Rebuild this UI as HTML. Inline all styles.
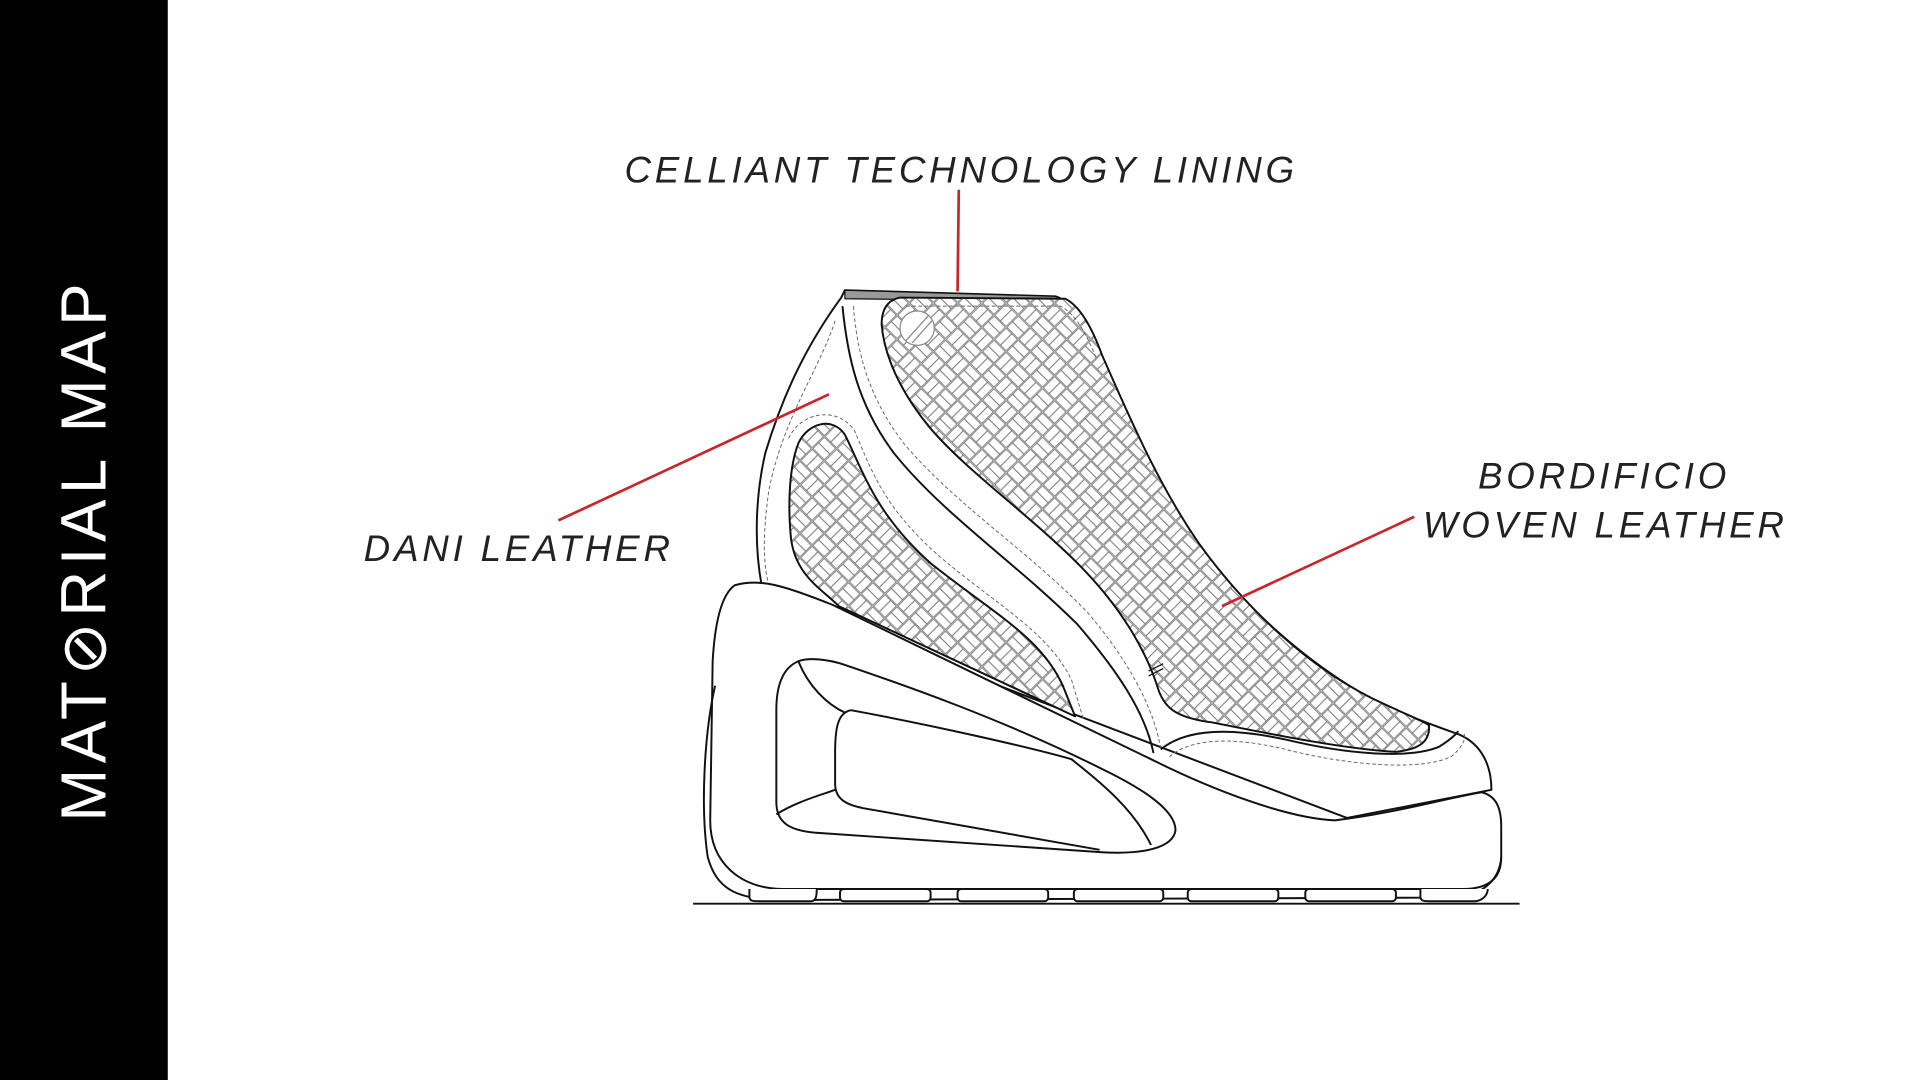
<!DOCTYPE html>
<html><head><meta charset="utf-8"><style>
html,body{margin:0;padding:0;background:#fff;}
svg{display:block;}
</style></head><body>
<svg width="1920" height="1080" viewBox="0 0 1568 882" xmlns="http://www.w3.org/2000/svg">
<defs>
<pattern id="weave" width="28" height="28" patternUnits="userSpaceOnUse" patternTransform="rotate(45)">
<rect width="28" height="28" fill="#fff"/>
<g fill="none" stroke="#777" stroke-width="0.7">
<rect x="0.5" y="0.5" width="13" height="6.5"/><rect x="0.5" y="7" width="13" height="6.5"/>
<rect x="14.5" y="0.5" width="6.5" height="13"/><rect x="21" y="0.5" width="6.5" height="13"/>
<rect x="0.5" y="14.5" width="6.5" height="13"/><rect x="7" y="14.5" width="6.5" height="13"/>
<rect x="14.5" y="14.5" width="13" height="6.5"/><rect x="14.5" y="21" width="13" height="6.5"/>
</g>
</pattern>
</defs>
<rect x="0" y="0" width="137" height="882" fill="#000"/>
<text transform="translate(86,449) rotate(-90)" text-anchor="middle" font-family="Liberation Sans, sans-serif" font-size="52" fill="#fff" letter-spacing="4.5">MAT⊘RIAL MAP</text>

<g font-family="Liberation Sans, sans-serif" font-style="italic" font-size="30" fill="#222" letter-spacing="3.1">
<text x="510" y="149">CELLIANT TECHNOLOGY LINING</text>
<text x="297" y="458">DANI LEATHER</text>
<text x="1207" y="399">BORDIFICIO</text>
<text x="1162" y="439">WOVEN LEATHER</text>
</g>

<g fill="none" stroke="#111" stroke-width="1.6" stroke-linejoin="round">
<path d="M687,243 L690,237 L862,242 C875,246 885,262 895,285 C915,330 940,390 975,440 C1010,490 1060,535 1110,565 C1140,582 1170,592 1192,600 C1210,608 1218,625 1218,645 L1100,668 L600,478 C612,476 620,478 622,478 C615,440 618,400 625,370 C640,320 660,280 687,243 Z" fill="#fff"/>
<path d="M690,237 L862,242 L866,246 L690,244 Z" fill="#999" stroke-width="1"/>
<path d="M735,243 L870,244 C882,250 892,268 900,290 C920,335 945,395 980,445 C1020,500 1070,545 1120,570 C1145,582 1160,588 1167,592 C1168,605 1160,612 1140,614 C1100,612 1040,600 990,590 C960,586 950,578 945,560 C935,530 915,495 880,460 C840,420 790,385 760,350 C735,320 722,290 720,265 C720,252 725,245 735,243 Z" fill="url(#weave)"/>
<path d="M740,250 L866,250 C878,256 887,272 895,292" stroke="#666" stroke-width="0.8" stroke-dasharray="3 2"/>
<path d="M688,250 C692,290 700,330 730,370 C770,420 830,460 880,510 C910,545 935,580 942,615" />
<path d="M697,250 C700,290 710,325 738,362 C780,412 840,450 888,500 C918,535 942,575 948,612" stroke="#666" stroke-width="0.8" stroke-dasharray="3 2"/>
<path d="M682,262 C670,300 640,340 628,400 C622,440 624,465 628,478" stroke="#666" stroke-width="0.8" stroke-dasharray="3 2"/>
<path d="M652,362 C660,345 680,340 690,355 C705,385 715,420 760,460 C810,500 850,520 868,560 L878,585 L685,495 C670,480 650,470 646,440 C643,410 645,380 652,362 Z" fill="url(#weave)"/>
<path d="M644,358 C655,335 685,332 698,352 C712,385 722,415 768,455 C815,495 855,515 875,555 L885,588" stroke="#666" stroke-width="0.8" stroke-dasharray="3 2"/>
<path d="M955,618 C970,605 1000,600 1050,612 C1100,625 1160,630 1185,618 C1195,610 1198,602 1195,598" stroke="#666" stroke-width="0.8" stroke-dasharray="3 2"/>
<path d="M948,612 C965,598 995,592 1050,604 C1100,616 1150,620 1175,610 C1188,602 1192,596 1190,598"/>
<circle cx="749" cy="268" r="14" stroke="#888" stroke-width="1" fill="#fff"/>
<path d="M740,278 L758,258 M745,280 L761,262" stroke="#888" stroke-width="1"/>
<path d="M938,552 L950,546 M938,548 L950,542" stroke-width="1"/>
<path d="M600,478 C620,472 640,478 680,494 L940,620 C990,645 1050,668 1090,670 C1140,664 1180,652 1210,647 C1222,650 1226,660 1226,675 L1226,700 C1226,718 1215,726 1195,726 L640,726 C605,726 580,705 580,670 L582,540 C584,505 590,485 600,478 Z" fill="#fff"/>
<path d="M584,560 C575,600 572,660 578,700 C585,725 600,735 640,735 L1190,733 C1215,730 1225,715 1226,700"/>
<path d="M652,540 C640,545 634,558 634,580 L634,655 C634,672 645,678 665,680 L900,696 C935,698 958,692 960,678 C960,662 935,645 900,628 C820,588 740,560 690,543 C675,538 660,537 652,540 Z" fill="#fff"/>
<path d="M652,540 C660,560 675,575 690,582 M634,665 C650,655 668,650 682,645"/>
<path d="M695,580 C684,582 682,595 682,615 L682,640 C682,652 690,657 705,660 L898,694 M695,580 C760,592 840,610 875,620 C900,640 925,660 940,690"/>
<g fill="#fff">
<path d="M612,726 L612,732 C612,736 615,736 620,736 L662,736 C666,736 667,733 667,726"/>
<rect x="686" y="726" width="74" height="10" rx="3"/>
<rect x="782" y="726" width="74" height="10" rx="3"/>
<rect x="877" y="726" width="73" height="10" rx="3"/>
<rect x="970" y="726" width="74" height="10" rx="3"/>
<rect x="1066" y="726" width="74" height="10" rx="3"/>
<path d="M1160,726 L1160,732 C1160,736 1163,736 1168,736 L1205,736 C1212,735 1215,730 1215,726"/>
</g>
<line x1="566" y1="738" x2="1241" y2="738"/>
</g>

<g stroke="#c8262c" stroke-width="2.2" fill="none">
<line x1="783" y1="155" x2="782" y2="238"/>
<line x1="456" y1="425" x2="677" y2="322"/>
<line x1="1155" y1="422" x2="998" y2="495"/>
</g>
</svg>
</body></html>
